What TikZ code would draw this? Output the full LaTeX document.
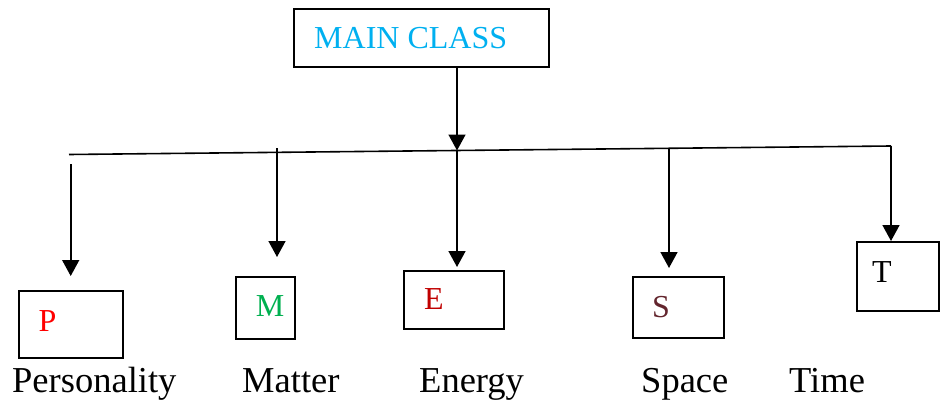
\documentclass[tikz,border=0pt]{standalone}
\usepackage{fontspec}
\setmainfont{Liberation Serif}
\usetikzlibrary{arrows.meta}
\definecolor{mainblue}{RGB}{0,176,240}
\definecolor{pred}{RGB}{255,0,0}
\definecolor{mgreen}{RGB}{0,176,80}
\definecolor{ered}{RGB}{192,0,0}
\definecolor{smaroon}{RGB}{99,37,45}
\tikzset{
  box/.style={draw=black, line width=1.6pt, rectangle, inner sep=0pt, anchor=north west},
  letter/.style={inner sep=0pt, font=\fontsize{32}{38}\selectfont},
  facet/.style={inner sep=0pt, anchor=base west, font=\fontsize{36.5}{44}\selectfont},
  wire/.style={line width=1.6pt, draw=black},
  arr/.style={wire, -{Triangle[width=17pt,length=16pt]}}
}
\begin{document}
\begin{tikzpicture}[x=1pt, y=-1pt]
  \useasboundingbox (0,0) rectangle (941,401);

  % top box
  \node[box, minimum width=255pt, minimum height=58pt] (main) at (293,8) {};
  \node[letter, anchor=base west, text=mainblue] (maintext) at (314,49) {MAIN CLASS};

  % facet boxes
  \node[box, minimum width=104pt, minimum height=67pt] (P) at (18,290) {};
  \node[box, minimum width=59pt, minimum height=62pt] (M) at (235,276) {};
  \node[box, minimum width=100pt, minimum height=58pt] (E) at (403,270) {};
  \node[box, minimum width=91pt, minimum height=61pt] (S) at (632,276) {};
  \node[box, minimum width=82pt, minimum height=69pt] (T) at (856,241) {};

  % letters in the boxes
  \node[letter, text=pred] (Pl) at (47.5,321) {P};
  \node[letter, text=mgreen] (Ml) at (270,306) {M};
  \node[letter, text=ered] (El) at (434,299) {E};
  \node[letter, text=smaroon] (Sl) at (661,307) {S};
  \node[letter, text=black] (Tl) at (882,272) {T};

  % names under the boxes
  \node[facet] (pers) at (12,392) {Personality};
  \node[facet] (matt) at (242,392) {Matter};
  \node[facet] (ener) at (419,392) {Energy};
  \node[facet] (spac) at (641,392) {Space};
  \node[facet] (time) at (789,392) {Time};

  % distribution bar
  \coordinate (barL) at (69,154.5);
  \coordinate (corner) at (891,146);
  \coordinate (pStart) at (70.7,164);
  \coordinate (mStart) at (277,148);
  \coordinate (eStart) at (457,150.5);
  \coordinate (sStart) at (669,148.3);

  \draw[arr] (eStart |- main.south) -- (eStart);
  \draw[wire] (barL) -- (corner);
  \draw[arr] (corner) -- (corner |- T.north);

  \draw[arr, shorten >=14pt] (pStart) -- (pStart |- P.north);
  \draw[arr, shorten >=19pt] (mStart) -- (mStart |- M.north);
  \draw[arr, shorten >=3pt] (eStart) -- (eStart |- E.north);
  \draw[arr, shorten >=8pt] (sStart) -- (sStart |- S.north);
\end{tikzpicture}
\end{document}
